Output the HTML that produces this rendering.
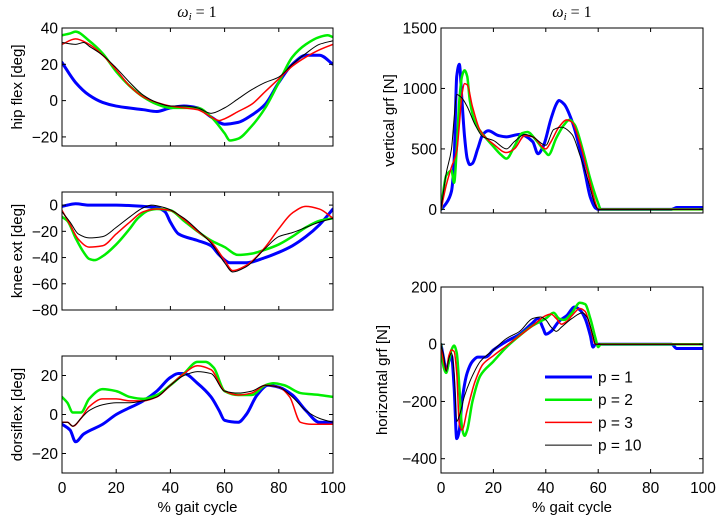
<!DOCTYPE html>
<html><head><meta charset="utf-8">
<style>
html,body{margin:0;padding:0;background:#fff;}
svg{display:block;font-family:"Liberation Sans",sans-serif;}
</style></head>
<body>
<svg id="fig" width="724" height="524" viewBox="0 0 724 524" xmlns="http://www.w3.org/2000/svg">
<text x="197" y="17" font-family="Liberation Serif, serif" font-style="italic" font-size="16" text-anchor="middle">ω<tspan font-size="11" dy="3">i</tspan><tspan dy="-3" font-style="normal"> = 1</tspan></text>
<text x="572" y="17" font-family="Liberation Serif, serif" font-style="italic" font-size="16" text-anchor="middle">ω<tspan font-size="11" dy="3">i</tspan><tspan dy="-3" font-style="normal"> = 1</tspan></text>
</svg>
<script>
// ---- data ----
const seriesNames = ["p = 1","p = 2","p = 3","p = 10"];
const seriesColors = ["#0000ff","#00ee00","#ff0000","#000000"];
const seriesWidths = [3,2.5,1.5,1];
const xTicks = [0,20,40,60,80,100];

const hipX = [[0,5,10,15,20,30,35,40,45,50,55,60,65,70,75,80,85,90,95,100],
 [0,3,5,10,15,20,25,30,35,40,45,50,55,60,62,65,70,75,80,85,90,95,98,100],
 [0,5,10,15,20,25,30,35,40,45,50,55,58,60,65,70,75,80,85,90,95,100],
 [0,5,8,10,15,20,25,30,35,40,45,50,55,60,65,70,75,80,85,90,95,100]];
const hipY = [[21,10,3,-1,-3,-5,-6,-4,-3,-4,-9,-13,-12,-8,-2,10,20,25,25,20],
 [36,37,38,33,26,16,8,2,-2,-4,-4,-4,-9,-18,-22,-21,-14,-4,10,24,31,35,36,35],
 [31,34,31,25,17,8,2,-1,-3,-4,-5,-9,-11,-10,-6,-2,5,12,19,24,28,31],
 [32,31,32,30,25,18,10,3,-1,-3,-3,-4,-7,-4,1,6,10,13,20,26,31,33]];
const hipTicks = [-20,0,20,40];

const kneeX = [[0,2,5,10,20,30,35,38,40,43,50,55,58,62,68,75,80,85,90,95,100],
 [0,2,5,8,10,12,15,20,25,28,32,35,40,45,50,55,60,65,70,75,80,85,90,95,100],
 [0,3,6,10,15,20,25,30,35,40,45,50,55,60,63,68,75,80,85,90,95,100],
 [0,3,6,10,15,20,25,30,33,38,45,50,55,60,63,68,75,80,85,90,95,100]];
const kneeY = [[-1,0,1,0,0,-1,-2,-5,-13,-22,-27,-31,-38,-44,-44,-40,-36,-31,-24,-15,-3],
 [-9,-12,-25,-36,-41,-42,-39,-30,-18,-10,-4,-3,-4,-12,-20,-27,-32,-38,-37,-34,-30,-24,-17,-12,-10],
 [-4,-15,-26,-32,-31,-22,-13,-5,-3,-4,-11,-20,-28,-42,-50,-46,-32,-18,-6,-1,-3,-10],
 [-5,-13,-22,-25,-24,-17,-9,-2,0,-2,-10,-19,-29,-44,-51,-47,-33,-24,-21,-17,-13,-10]];
const kneeTicks = [-80,-60,-40,-20,0];

const dorsX = [[0,3,5,8,15,20,30,35,40,43,45,50,55,58,60,65,68,72,76,80,85,90,95,100],
 [0,2,4,7,10,15,20,25,30,35,40,45,50,53,56,60,65,70,75,78,82,88,95,100],
 [0,2,4,7,10,15,20,25,30,35,40,45,50,55,60,65,70,75,80,84,88,92,100],
 [0,2,4,7,10,15,20,25,30,35,40,45,50,55,60,65,70,75,80,85,90,95,100]];
const dorsY = [[-5,-8,-14,-10,-5,0,7,12,19,21,21,16,9,2,-3,-4,0,10,15,14,10,2,-4,-4],
 [9,6,1,1,8,13,12,9,8,10,15,21,27,27,24,12,10,10,15,16,15,11,10,9],
 [-4,-4,-6,-2,4,8,8,7,7,9,15,21,25,23,12,10,11,15,14,9,-4,-5,-5],
 [-4,-4,-6,-2,2,5,6,6,7,9,15,20,22,21,12,11,12,15,14,9,2,-2,-4]];
const dorsTicks = [-20,0,20];

const vgrfX = [[0,2,4,5,6,7,8,9,10,11,12,14,16,18,22,25,30,35,37,39,42,44,45,47,50,53,55,57,59,60,88,90,100],
 [0,2,4,5,6,7,8,9,10,11,13,16,20,23,25,28,31,33,36,40,41,44,47,49,51,54,57,60,61,100],
 [0,2,4,6,7,8,9,10,12,15,20,25,28,32,35,40,42,45,48,50,53,56,59,60,100],
 [0,2,4,5,6,8,10,13,16,20,25,28,32,35,40,43,46,50,53,56,59,60,100]];
const vgrfY = [[0,50,150,400,1100,1200,900,600,420,370,380,500,620,650,610,600,620,560,460,520,750,870,900,870,730,500,300,100,10,0,0,15,15],
 [0,280,320,220,500,900,1100,1150,1100,900,720,620,520,450,420,520,630,640,580,470,450,590,700,740,700,500,250,50,0,0],
 [0,200,350,480,700,950,1040,1030,850,650,540,470,500,610,600,500,560,680,740,720,550,300,50,0,0],
 [0,300,500,750,950,920,850,700,600,570,500,560,620,600,530,660,680,620,450,250,30,0,0]];
const vgrfTicks = [0,500,1000,1500];

const hgrfX = [[0,1,2,3,4,5,6,7,8,10,12,14,17,20,25,30,35,37,39,40,42,45,48,51,53,55,57,58,59,88,90,100],
 [0,1,2,3,4,5,6,7,8,9,10,12,15,20,25,30,35,40,43,45,47,50,53,55,57,59,60,61,100],
 [0,1,2,3,4,5,6,7,8,10,13,16,20,25,30,35,40,42,44,46,48,50,53,55,57,59,100],
 [0,1,2,3,4,5,6,7,9,12,15,20,25,30,35,38,40,42,44,46,50,54,56,58,59,100]];
const hgrfY = [[0,-50,-95,-60,-40,-150,-330,-300,-200,-100,-60,-45,-45,-20,10,35,75,90,55,35,45,80,100,130,120,90,30,-10,0,0,-15,-15],
 [0,-80,-100,-60,-20,-5,-30,-150,-290,-320,-300,-200,-110,-60,-10,30,65,90,110,90,85,110,145,140,90,20,-10,0,0],
 [0,-60,-90,-40,-20,-25,-100,-280,-300,-230,-130,-70,-40,-5,30,65,100,105,90,70,80,100,125,115,60,0,0],
 [0,-40,-95,-50,-30,-100,-270,-250,-180,-110,-60,-20,20,45,90,95,85,60,45,60,90,110,90,30,0,0]];
const hgrfTicks = [-400,-200,0,200];

// ---- drawing ----
const NS = "http://www.w3.org/2000/svg";
const svg = document.getElementById("fig");
function mk(tag, attrs, parent){const e=document.createElementNS(NS,tag);for(const k in attrs)e.setAttribute(k,attrs[k]);(parent||svg).appendChild(e);return e;}
// monotone cubic (Fritsch-Carlson) path - no overshoot
function smoothPath(pts){
  const n=pts.length;
  const dx=[],m=[],t=new Array(n);
  for(let i=0;i<n-1;i++){dx[i]=pts[i+1][0]-pts[i][0];m[i]=(pts[i+1][1]-pts[i][1])/dx[i];}
  t[0]=m[0];t[n-1]=m[n-2];
  for(let i=1;i<n-1;i++){
    if(m[i-1]*m[i]<=0)t[i]=0;
    else{const w1=2*dx[i]+dx[i-1],w2=dx[i]+2*dx[i-1];t[i]=(w1+w2)/(w1/m[i-1]+w2/m[i]);}
  }
  let d="M"+pts[0][0].toFixed(2)+","+pts[0][1].toFixed(2);
  for(let i=0;i<n-1;i++){
    const h=dx[i]/3;
    d+=" C"+(pts[i][0]+h).toFixed(2)+","+(pts[i][1]+t[i]*h).toFixed(2)+" "+(pts[i+1][0]-h).toFixed(2)+","+(pts[i+1][1]-t[i+1]*h).toFixed(2)+" "+pts[i+1][0].toFixed(2)+","+pts[i+1][1].toFixed(2);
  }
  return d;
}
function panel(name, box, ymin, ymax, yt, xs, ys, ylabel, showX){
  const [L,T,R,B]=box;
  const sx=v=>L+(v/100)*(R-L);
  const sy=v=>B-(v-ymin)/(ymax-ymin)*(B-T);
  const g=mk("g",{});
  
  
  const clipId="clip-"+name;
  const cp=mk("clipPath",{id:clipId},g);
  mk("rect",{x:L,y:T,width:R-L,height:B-T},cp);
  const lines=mk("g",{"clip-path":"url(#"+clipId+")"},g);
  for(let s=0;s<xs.length;s++){
    const pts=xs[s].map((x,i)=>[sx(x),sy(ys[s][i])]);
    const p=mk("path",{d:smoothPath(pts),fill:"none",stroke:seriesColors[s],"stroke-width":seriesWidths[s],"stroke-linejoin":"round","stroke-linecap":"round"},lines);
    
    
  }
  const ax=mk("rect",{x:L,y:T,width:R-L,height:B-T,fill:"none",stroke:"#000","stroke-width":1},g);
  
  
  for(const t of xTicks){
    const x=sx(t);
    mk("line",{x1:x,y1:B,x2:x,y2:B-4,stroke:"#000"},g);
    mk("line",{x1:x,y1:T,x2:x,y2:T+4,stroke:"#000"},g);
    if(showX){
      const tx=mk("text",{x:x,y:B+20,"font-size":15.5,"text-anchor":"middle"},g);
      tx.textContent=t;
      
      
    }
  }
  for(const t of yt){
    const y=sy(t);
    mk("line",{x1:L,y1:y,x2:L+4,y2:y,stroke:"#000"},g);
    mk("line",{x1:R,y1:y,x2:R-4,y2:y,stroke:"#000"},g);
    const tx=mk("text",{x:L-4,y:y+5.5,"font-size":15.5,"text-anchor":"end"},g);
    tx.textContent=(t<0?"\u2212"+(-t):t);
    
    
  }
  const lx = name.startsWith("hip")||name.startsWith("knee")||name.startsWith("dors") ? 22 : (name==="vgrf"?394:387);
  const yl=mk("text",{x:lx,y:(T+B)/2,"font-size":15,"text-anchor":"middle",transform:"rotate(-90 "+lx+" "+((T+B)/2)+")"},g);
  yl.textContent=ylabel;
  
  
  if(showX){
    const xl=mk("text",{x:(L+R)/2,y:B+39,"font-size":15,"text-anchor":"middle"},g);
    xl.textContent="% gait cycle";
    
    
  }
}
panel("hip",[62,28,333,146],-25,40,hipTicks,hipX,hipY,"hip flex [deg]",false);
panel("knee",[62,192,333,310],-80,10,kneeTicks,kneeX,kneeY,"knee ext [deg]",false);
panel("dors",[62,356,333,473],-30,30,dorsTicks,dorsX,dorsY,"dorsiflex [deg]",true);
panel("vgrf",[441,28,703,213],-30,1500,vgrfTicks,vgrfX,vgrfY,"vertical grf [N]",false);
panel("hgrf",[441,287,703,473],-450,200,hgrfTicks,hgrfX,hgrfY,"horizontal grf [N]",true);

// legend
const leg=mk("g",{});


for(let s=0;s<seriesNames.length;s++){
  const y=377+s*22.7;
  const e=mk("g",{},leg);
  
  
  mk("line",{x1:545,y1:y,x2:592,y2:y,stroke:seriesColors[s],"stroke-width":seriesWidths[s]},e);
  const t=mk("text",{x:598,y:y+5.5,"font-size":15.5},e);
  t.textContent=seriesNames[s];
}
</script>
</body></html>
